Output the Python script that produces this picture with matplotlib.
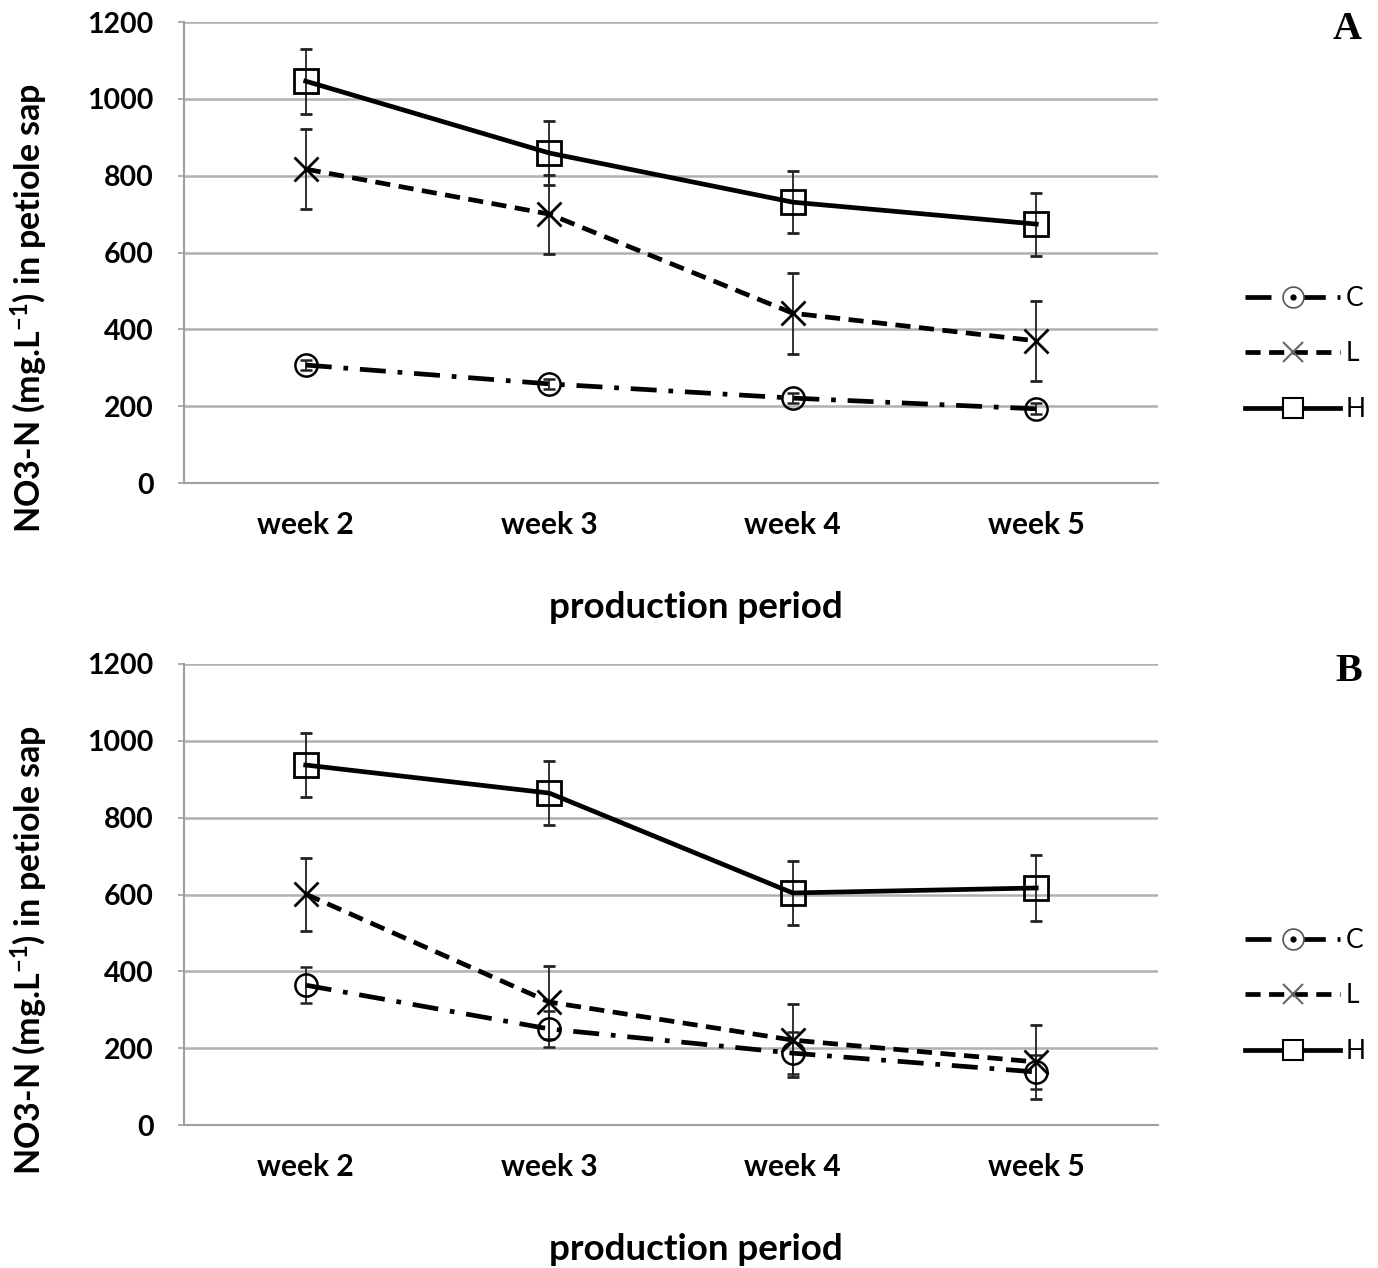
import matplotlib
matplotlib.use("Agg")
import matplotlib.pyplot as plt
from matplotlib.lines import Line2D
import numpy as np

weeks = ["week 2", "week 3", "week 4", "week 5"]
yticks = [0, 200, 400, 600, 800, 1000, 1200]

# Panel A
A_C = [307, 258, 221, 193]
A_C_err = [14, 14, 14, 14]
A_L = [817, 700, 442, 370]
A_L_err = [105, 103, 105, 104]
A_H = [1046, 859, 731, 674]
A_H_err = [85, 82, 80, 82]

# Panel B
B_C = [364, 250, 187, 138]
B_C_err = [47, 48, 55, 45]
B_L = [601, 320, 221, 164]
B_L_err = [95, 95, 95, 97]
B_H = [937, 864, 604, 617]
B_H_err = [84, 84, 84, 85]

FONT = "Lato"
plt.rcParams["font.family"] = [FONT, "DejaVu Sans"]
plt.rcParams["mathtext.default"] = "regular"

fig = plt.figure(figsize=(13.78, 12.68), dpi=100)
W, H = 1378, 1268
LEFT, RIGHT = 184, 1158

def make_axes(top_px, bottom_px):
    return fig.add_axes([LEFT / W, 1 - bottom_px / H, (RIGHT - LEFT) / W, (bottom_px - top_px) / H])

axA = make_axes(22, 483)
axB = make_axes(664, 1125)

C_style = (0, (5.5, 2.5, 1, 2.5))
L_style = (0, (3.2, 1.8))

def draw(ax, C, Ce, L, Le, Hh, He, panel):
    x = np.arange(len(weeks))
    eb = dict(ecolor="#222222", elinewidth=1.3, capsize=4.5, capthick=1.3)
    ax.errorbar(x, C, yerr=Ce, color="black", lw=3.4, ls=C_style, marker="o", ms=16,
                mfc="none", mec="black", mew=1.8, zorder=3, **eb)
    ax.errorbar(x, L, yerr=Le, color="black", lw=3.4, ls=L_style, marker="x", ms=17,
                mec="black", mew=2.0, zorder=3, **eb)
    ax.errorbar(x, Hh, yerr=He, color="black", lw=3.4, ls="-", marker="s", ms=17,
                mfc="none", mec="black", mew=2.0, zorder=3, **eb)
    ax.set_xlim(-0.5, 3.5)
    ax.set_ylim(0, 1200)
    ax.set_yticks(yticks)
    ax.set_yticklabels([str(v) for v in yticks], fontsize=20.5, fontweight="bold")
    ax.set_xticks(x)
    ax.set_xticklabels(weeks, fontsize=21.5, fontweight="bold")
    ax.tick_params(axis="x", length=0, pad=20)
    ax.tick_params(axis="y", length=4, width=1.2, color="#a0a0a0", pad=18)
    ax.grid(axis="y", color="#b0b0b0", lw=1.8)
    ax.set_axisbelow(True)
    for s in ["top", "right"]:
        ax.spines[s].set_visible(False)
    for s in ["left", "bottom"]:
        ax.spines[s].set_color("#a0a0a0")
        ax.spines[s].set_linewidth(1.5)
    ax.set_xlabel("production period", fontsize=26.5, fontweight="bold")
    ax.xaxis.set_label_coords((696 - LEFT) / (RIGHT - LEFT), -0.235)
    ax.set_ylabel(r"NO3-N (mg.L$^{-1}$) in petiole sap", fontsize=24.5, fontweight="bold")
    ax.yaxis.set_label_coords(-0.138, 0.38)
    ax.text((1362 - LEFT) / (RIGHT - LEFT), 1.024, panel, transform=ax.transAxes, fontsize=29,
            fontweight="bold", family="Liberation Serif", ha="right", va="top")
    hC = (Line2D([], [], color="black", lw=3.4, ls=C_style),
          Line2D([], [], ls="none", marker="o", ms=15, mfc="white", mec="#555555", mew=1.2),
          Line2D([], [], ls="none", marker="o", ms=3.5, color="black"))
    hL = (Line2D([], [], color="black", lw=3.4, ls=L_style),
          Line2D([], [], ls="none", marker="x", ms=15, mec="#666666", mew=1.5))
    hH = (Line2D([], [], color="black", lw=3.4, ls="-"),
          Line2D([], [], ls="none", marker="s", ms=15, mfc="white", mec="black", mew=1.5))
    ax.legend([hC, hL, hH], ["C", "L", "H"], loc="center left",
              bbox_to_anchor=(1.065, 0.28), frameon=False,
              handlelength=3.6, handletextpad=0.2, labelspacing=1.15,
              prop={"family": FONT, "size": 19})

draw(axA, A_C, A_C_err, A_L, A_L_err, A_H, A_H_err, "A")
draw(axB, B_C, B_C_err, B_L, B_L_err, B_H, B_H_err, "B")

fig.savefig("out.png", dpi=100)
